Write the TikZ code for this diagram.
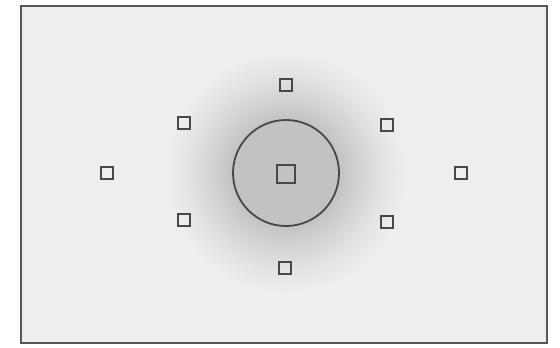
\documentclass[tikz,border=0pt]{standalone}
\definecolor{bgc}{HTML}{EFEDEE}
\definecolor{darkc}{HTML}{C3C1C2}
\definecolor{framec}{HTML}{575757}
\definecolor{markc}{HTML}{484848}
\tikzset{
  afpt/.style={draw=markc, line width=2pt, fill=none, minimum size=12pt, inner sep=0pt},
  afctr/.style={draw=markc, line width=2pt, fill=none, minimum size=18pt, inner sep=0pt},
  spotring/.style={circle, draw=markc, line width=1.8pt, minimum size=106pt, inner sep=0pt}
}
\begin{document}
\begin{tikzpicture}[x=1pt,y=-1pt]
\useasboundingbox (0,0) rectangle (560,348);
\fill[white] (0,0) rectangle (560,348);
\fill[bgc] (21,6) rectangle (547,343);
\foreach \r in {122,120,...,50} {
  \pgfmathsetmacro{\t}{max(0,min(1,(\r-53)/68))}
  \pgfmathsetmacro{\p}{100*(1-\t)^1.25}
  \fill[darkc!\p!bgc] (286,173) circle[radius=\r];
}
\draw[framec, line width=2.5pt] (21,6) rectangle (547,343);
\node[spotring] (ring) at (286,173) {};
\node[afctr] (c) at (286,174) {};
\node[afpt] (t) at (286,85) {};
\node[afpt] (b) at (285,268) {};
\node[afpt] (tl) at (184,123) {};
\node[afpt] (tr) at (387,125) {};
\node[afpt] (bl) at (184,220) {};
\node[afpt] (br) at (387,222) {};
\node[afpt] (l) at (107,173) {};
\node[afpt] (r) at (461,173) {};
\end{tikzpicture}
\end{document}
